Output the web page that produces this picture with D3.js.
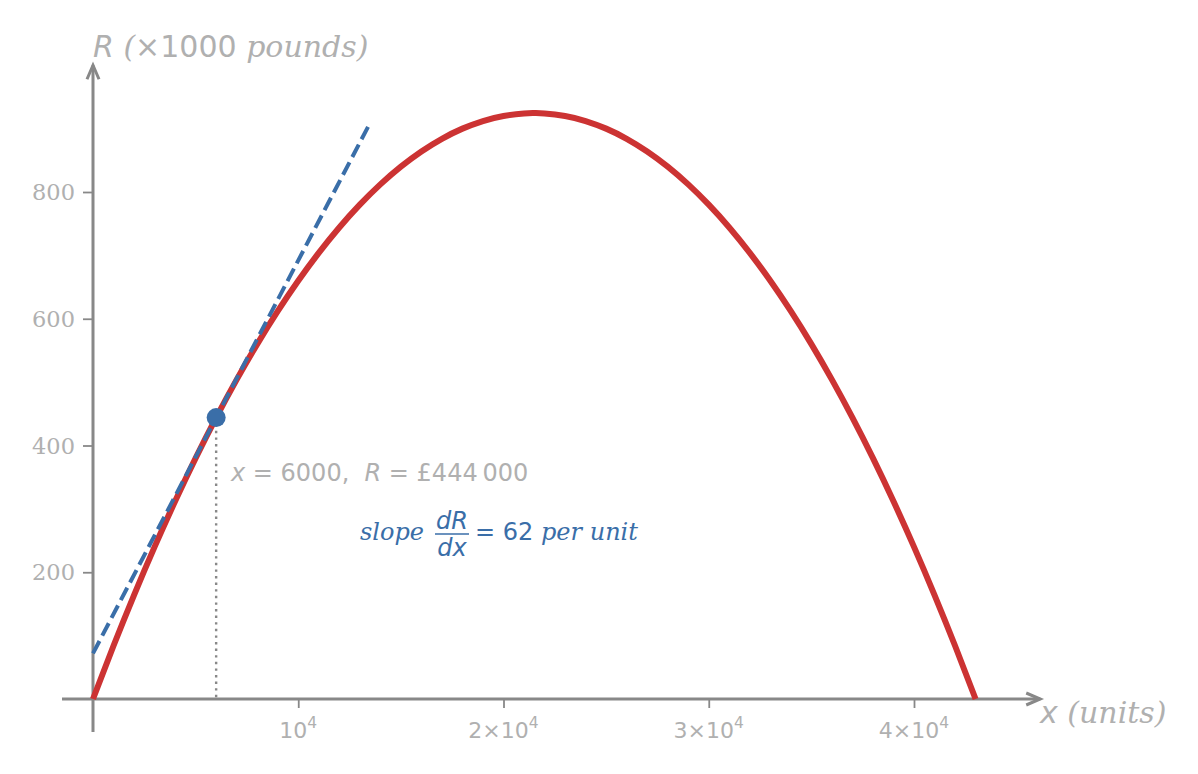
<!DOCTYPE html>
<html><head><meta charset="utf-8">
<script src="https://cdn.jsdelivr.net/npm/d3@7/dist/d3.min.js"></script>
<style>body{margin:0;background:#fff}svg{display:block}</style>
</head><body>
<script>
// Revenue curve samples (x in units, R in thousands of pounds)
const xValues = [0,1000,2000,3000,4000,5000,6000,7000,8000,9000,10000,11000,12000,13000,14000,15000,16000,17000,18000,19000,20000,21000,21500,22000,23000,24000,25000,26000,27000,28000,29000,30000,31000,32000,33000,34000,35000,36000,37000,38000,39000,40000,41000,42000,43000];
const rValues = [0,84,164,240,312,380,444,504,560,612,660,704,744,780,812,840,864,884,900,912,920,924,924.5,924,920,912,900,884,864,840,812,780,744,704,660,612,560,504,444,380,312,240,164,84,0];
// Tangent line at x = 6000
const tangentX = [0, 13500];
const tangentR = [72, 909];
const pointX = 6000, pointR = 444;
const xTicks = [10000, 20000, 30000, 40000];
const xTickMant = ["", "2", "3", "4"];
const yTicks = [200, 400, 600, 800];

const W = 1198, H = 774;
const svg = d3.select("body").append("svg").attr("width", W).attr("height", H);
const x = d3.scaleLinear().domain([0, 40000]).range([93, 914]);
const y = d3.scaleLinear().domain([0, 800]).range([699, 192]);

const grey = "#888888", tickText = "#b0b0b0", red = "#cc3333", blue = "#3a6ea8";

// axes lines
const xMin = -1510, xMax = 46150, yMin = -52, yMax = 1000;
svg.append("line").attr("x1", x(xMin)).attr("x2", x(xMax)).attr("y1", y(0)).attr("y2", y(0))
  .attr("stroke", grey).attr("stroke-width", 3);
svg.append("line").attr("x1", x(0)).attr("x2", x(0)).attr("y1", y(yMin)).attr("y2", y(yMax))
  .attr("stroke", grey).attr("stroke-width", 3);
// arrow heads
const ax = x(xMax), ay = y(0);
svg.append("path").attr("d", `M${ax-14},${ay-6} L${ax},${ay} L${ax-14},${ay+6}`)
  .attr("fill", "none").attr("stroke", grey).attr("stroke-width", 3);
const bx = x(0), by = y(yMax);
svg.append("path").attr("d", `M${bx-6},${by+14} L${bx},${by} L${bx+6},${by+14}`)
  .attr("fill", "none").attr("stroke", grey).attr("stroke-width", 3);

// ticks
const gx = svg.append("g").attr("transform", `translate(0,${y(0)})`)
  .call(d3.axisBottom(x).tickValues(xTicks).tickSize(9).tickFormat(""));
gx.select(".domain").remove();
gx.selectAll(".tick line").attr("stroke", grey).attr("stroke-width", 1.8);
const gy = svg.append("g").attr("transform", `translate(${x(0)},0)`)
  .call(d3.axisLeft(y).tickValues(yTicks).tickSize(10).tickFormat(""));
gy.select(".domain").remove();
gy.selectAll(".tick line").attr("stroke", grey).attr("stroke-width", 1.8);

// x tick labels
xTicks.forEach((v, i) => {
  const t = svg.append("text").attr("x", x(v)).attr("y", 738).attr("text-anchor", "middle")
    .attr("font-family", "DejaVu Sans").attr("font-size", 22).attr("fill", tickText);
  t.append("tspan").text(xTickMant[i] ? xTickMant[i] + "×10" : "10");
  t.append("tspan").attr("dy", -10).attr("font-size", 15.5).text("4");
});
// y tick labels
yTicks.forEach(v => {
  svg.append("text").attr("x", 75).attr("y", y(v) + 8).attr("text-anchor", "end")
    .attr("font-family", "DejaVu Serif").attr("font-size", 22.5).attr("fill", tickText).text(v);
});

// axis labels
const yl = svg.append("text").attr("x", 93).attr("y", 57).attr("font-size", 30).attr("fill", tickText);
yl.append("tspan").attr("font-family", "DejaVu Sans").attr("font-style", "italic").text("R");
yl.append("tspan").attr("font-family", "DejaVu Serif").attr("font-style", "italic").text(" (");
yl.append("tspan").attr("font-family", "DejaVu Sans").text("×1000");
yl.append("tspan").attr("font-family", "DejaVu Serif").attr("font-style", "italic").text(" pounds)");
const xl = svg.append("text").attr("x", 1040).attr("y", 723).attr("font-size", 30).attr("fill", tickText);
xl.append("tspan").attr("font-family", "DejaVu Sans").attr("font-style", "italic").text("x");
xl.append("tspan").attr("font-family", "DejaVu Serif").attr("font-style", "italic").text(" (units)");

// dotted drop line
svg.append("line").attr("x1", x(pointX)).attr("x2", x(pointX)).attr("y1", y(pointR)).attr("y2", y(0))
  .attr("stroke", grey).attr("stroke-width", 2.4).attr("stroke-dasharray", "2.4,4.2");

// revenue curve
const pts = xValues.map((v, i) => [v, rValues[i]]);
svg.append("path").datum(pts)
  .attr("d", d3.line().x(d => x(d[0])).y(d => y(d[1])).curve(d3.curveNatural))
  .attr("fill", "none").attr("stroke", red).attr("stroke-width", 6);

// tangent
svg.append("path").datum(tangentX.map((v, i) => [v, tangentR[i]]))
  .attr("d", d3.line().x(d => x(d[0])).y(d => y(d[1])))
  .attr("fill", "none").attr("stroke", blue).attr("stroke-width", 4).attr("stroke-dasharray", "14,6");

// point
svg.append("circle").attr("cx", x(pointX)).attr("cy", y(pointR)).attr("r", 9.5).attr("fill", blue);

// annotation 1
const a1 = svg.append("text").attr("x", 231).attr("y", 481).attr("font-family", "DejaVu Sans")
  .attr("font-size", 24).attr("fill", tickText).attr("xml:space", "preserve");
a1.append("tspan").attr("font-style", "italic").text("x");
a1.append("tspan").text(" = 6000,  ");
a1.append("tspan").attr("font-style", "italic").text("R");
a1.append("tspan").text(" = £444\u2009000");

// annotation 2
svg.append("text").attr("x", 360).attr("y", 540).attr("font-family", "DejaVu Serif").attr("font-style", "italic")
  .attr("font-size", 24).attr("fill", blue).text("slope");
svg.append("text").attr("x", 452).attr("y", 529).attr("text-anchor", "middle").attr("font-family", "DejaVu Sans")
  .attr("font-style", "italic").attr("font-size", 24).attr("fill", blue).text("dR");
svg.append("line").attr("x1", 435).attr("x2", 469).attr("y1", 534).attr("y2", 534).attr("stroke", blue).attr("stroke-width", 1.4);
svg.append("text").attr("x", 452).attr("y", 556).attr("text-anchor", "middle").attr("font-family", "DejaVu Sans")
  .attr("font-style", "italic").attr("font-size", 24).attr("fill", blue).text("dx");
svg.append("text").attr("x", 475).attr("y", 540).attr("font-family", "DejaVu Sans")
  .attr("font-size", 24).attr("fill", blue).text("= 62");
svg.append("text").attr("x", 541).attr("y", 540).attr("font-family", "DejaVu Serif").attr("font-style", "italic")
  .attr("font-size", 24).attr("fill", blue).text("per unit");
</script>
</body></html>
